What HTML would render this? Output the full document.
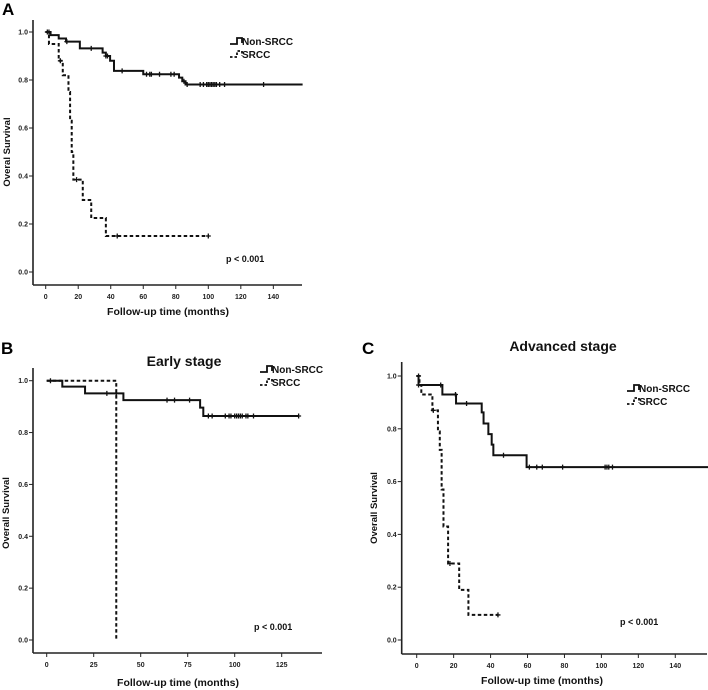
<!DOCTYPE html>
<html><head><meta charset="utf-8"><style>
html,body{margin:0;padding:0;background:#fff;}
svg{display:block;font-family:"Liberation Sans",Arial,sans-serif;font-weight:bold;}
</style></head><body>
<svg id="fig" width="708" height="690" viewBox="0 0 708 690"></svg>
<script>
// ---- Panel A data ----
const aNonTimes=[0,3,8,12.5,21,35,37,39.6,42,60,82,84,86,158];
const aNonSurv=[1,0.987,0.973,0.96,0.932,0.914,0.9,0.88,0.838,0.824,0.81,0.795,0.781,0.781];
const aNonCens=[2,13,28,37,38,47,62,64,65,70,77,79,85,87,95,97,99,100,101,102,103,104,105,107,110,134];
const aSrTimes=[0,2,8,10.5,14,15,16,17,22.8,28,37,100];
const aSrSurv=[1,0.95,0.88,0.82,0.75,0.63,0.5,0.385,0.30,0.225,0.15,0.15];
const aSrCens=[1,9,19,44,100];
const aXTicks=[0,20,40,60,80,100,120,140];
const yTicks=[0,0.2,0.4,0.6,0.8,1.0];
// ---- Panel B data ----
const bNonTimes=[0,8.3,20.4,40.8,81.6,83.3,134];
const bNonSurv=[1,0.977,0.951,0.925,0.896,0.864,0.864];
const bNonCens=[2,32,37,64,68,76,86,88,95,97,98,100,101,102,103,104,106,107,110,134];
const bSrTimes=[0,37,37];
const bSrSurv=[1,1,0];
const bSrCens=[];
const bXTicks=[0,25,50,75,100,125];
// ---- Panel C data ----
const cNonTimes=[0,1,13.9,21.3,35.2,36.2,38.8,40.6,41.5,59.5,158];
const cNonSurv=[1,0.966,0.93,0.896,0.862,0.82,0.78,0.74,0.70,0.655,0.655];
const cNonCens=[1,13,21,27,47,61,65,68,79,102,103,104,106];
const cSrTimes=[0,1.5,2.5,8.5,11.5,12.5,13.5,14.5,17,23,28,44];
const cSrSurv=[1,0.966,0.93,0.87,0.79,0.72,0.57,0.43,0.29,0.19,0.095,0.095];
const cSrCens=[1,9,18,44];
const cXTicks=[0,20,40,60,80,100,120,140];

const NS="http://www.w3.org/2000/svg";
const svg=document.getElementById('fig');
function mk(tag,attrs,parent){const e=document.createElementNS(NS,tag);for(const k in attrs)e.setAttribute(k,attrs[k]);(parent||svg).appendChild(e);return e;}
function txt(s,attrs,parent){const e=mk('text',attrs,parent);e.textContent=s;return e;}

function panel(p){
  const g=mk('g',{});
  
  
  const X=v=>p.x0+v*p.kx, Y=v=>p.y0-(p.y0-p.y1)*v;
  // axes
  const ya=mk('line',{x1:p.ax,y1:p.axTop,x2:p.ax,y2:p.ay,stroke:'#222','stroke-width':1.6},g);
  
  const xa=mk('line',{x1:p.ax,y1:p.ay,x2:p.axRight,y2:p.ay,stroke:'#222','stroke-width':1.6},g);
  
  yTicks.forEach(t=>{
    mk('line',{x1:p.ax-4,y1:Y(t),x2:p.ax,y2:Y(t),stroke:'#222','stroke-width':1},g);
    const l=txt(t.toFixed(1),{x:p.ax-5,y:Y(t)+2.5,'font-size':7,'text-anchor':'end',fill:'#222'},g);
    
  });
  p.xt.forEach(t=>{
    mk('line',{x1:X(t),y1:p.ay,x2:X(t),y2:p.ay+4,stroke:'#222','stroke-width':1},g);
    const l=txt(String(t),{x:X(t),y:p.ay+14,'font-size':7,'text-anchor':'middle',fill:'#222'},g);
    
  });
  const xt=txt('Follow-up time (months)',{x:p.xtX,y:p.xtY,'font-size':10.5,'text-anchor':'middle',fill:'#111'},g);
  
  const yt=txt(p.ytitle,{x:0,y:0,'font-size':9.5,'text-anchor':'middle',fill:'#111',transform:`translate(${p.ytX},${p.ytY}) rotate(-90)`},g);
  
  const lb=txt(p.id,{x:p.lx,y:p.ly,'font-size':17,fill:'#000'},g);
  
  if(p.title){const t=txt(p.title,{x:p.tX,y:p.tY,'font-size':14,'text-anchor':'middle',fill:'#111'},g);
    }
  const pv=txt('p < 0.001',{x:p.pX,y:p.pY,'font-size':9,fill:'#111'},g);
  
  // series
  function series(times,surv,cens,dash,name){
    let d=`M${X(times[0])},${Y(surv[0])}`;
    for(let i=1;i<times.length;i++){d+=` H${X(times[i])} V${Y(surv[i])}`;}
    const path=mk('path',{d,fill:'none',stroke:'#111','stroke-width':2,'stroke-dasharray':dash?'3.5,2.5':'none'},g);
    
    cens.forEach(c=>{
      let s=surv[0];for(let i=0;i<times.length;i++){if(times[i]<=c)s=surv[i];}
      const m=mk('path',{d:`M${X(c)-2.5},${Y(s)} h5 M${X(c)},${Y(s)-2.5} v5`,stroke:'#111','stroke-width':1.3},g);
      
    });
  }
  series(p.nt,p.ns,p.nc,false,'non-srcc');
  series(p.st,p.ss,p.sc,true,'srcc');
  // legend
  const lg=mk('g',{},g);
  const e1=mk('path',{d:`M${p.lgX-12},${p.lgY+2} h7 v-6 h5 v5`,fill:'none',stroke:'#111','stroke-width':1.8},lg);
  
  const t1=txt('Non-SRCC',{x:p.lgX,y:p.lgY+3,'font-size':10,fill:'#111'},lg);
  
  const e2=mk('path',{d:`M${p.lgX-12},${p.lgY+15} h7 v-6 h5 v5`,fill:'none',stroke:'#111','stroke-width':1.8,'stroke-dasharray':'2.5,2'},lg);
  
  const t2=txt('SRCC',{x:p.lgX,y:p.lgY+16,'font-size':10,fill:'#111'},lg);
  
}

panel({id:'A',x0:45.7,kx:1.626,y0:272,y1:32,ax:33,ay:285,axTop:20,axRight:302,xt:aXTicks,
  xtX:168,xtY:315,ytitle:'Overal Survival',ytX:10,ytY:152,lx:2,ly:15,pX:226,pY:262,lgX:242,lgY:42,
  nt:aNonTimes,ns:aNonSurv,nc:aNonCens,st:aSrTimes,ss:aSrSurv,sc:aSrCens});
panel({id:'B',x0:46.7,kx:1.88,y0:640,y1:380.7,ax:33,ay:653,axTop:368,axRight:322,xt:bXTicks,
  xtX:178,xtY:686,ytitle:'Overall Survival',ytX:9,ytY:513,lx:1,ly:354,title:'Early stage',tX:184,tY:366,
  pX:254,pY:630,lgX:272,lgY:370,
  nt:bNonTimes,ns:bNonSurv,nc:bNonCens,st:bSrTimes,ss:bSrSurv,sc:bSrCens});
panel({id:'C',x0:416.7,kx:1.847,y0:640,y1:376,ax:401.7,ay:654,axTop:362,axRight:707,xt:cXTicks,
  xtX:542,xtY:684,ytitle:'Overall Survival',ytX:377,ytY:508,lx:362,ly:354,title:'Advanced stage',tX:563,tY:351,
  pX:620,pY:625,lgX:639,lgY:389,
  nt:cNonTimes,ns:cNonSurv,nc:cNonCens,st:cSrTimes,ss:cSrSurv,sc:cSrCens});
</script>
</body></html>
